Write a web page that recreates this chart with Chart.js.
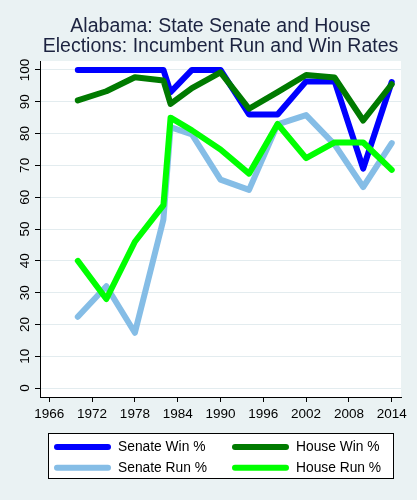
<!DOCTYPE html>
<html>
<head>
<meta charset="utf-8">
<script src="https://cdn.jsdelivr.net/npm/chart.js@4.4.1/dist/chart.umd.min.js"></script>
<style>
  html, body { margin: 0; padding: 0; background: #eaf2f3; }
  #wrap { width: 417px; height: 500px; }
</style>
</head>
<body>
<div id="wrap"><canvas id="c" width="417" height="500"></canvas></div>
<script>
// ---- data ----
const years     = [1970, 1974, 1978, 1982, 1983, 1986, 1990, 1994, 1998, 2002, 2006, 2010, 2014];
const senateWin = [100, 100, 100, 100, 93, 100, 100, 86, 86, 96.4, 96.4, 69, 96.2];
const houseWin  = [90.4, 93.3, 97.7, 96.7, 89.3, 94.3, 99.2, 87.8, 93, 98.4, 97.6, 84.1, 95.5];
const senateRun = [22.4, 32, 17.4, 53, 82, 79.7, 65.5, 62.3, 82.9, 85.8, 76.5, 63.2, 77];
const houseRun  = [40, 28, 46, 57.5, 85, 81, 75, 67.4, 83, 72.3, 77.2, 77.2, 68.6];
const xTicks = [1966, 1972, 1978, 1984, 1990, 1996, 2002, 2008, 2014];
const yTicks = [0, 10, 20, 30, 40, 50, 60, 70, 80, 90, 100];
const seriesNames = ['Senate Win %', 'House Win %', 'Senate Run %', 'House Run %'];
const titleLines = ['Alabama: State Senate and House', 'Elections: Incumbent Run and Win Rates'];

const FONT = '"Liberation Sans", Arial, sans-serif';
const colors = ['#0000ff', '#007a00', '#85bde6', '#00ff00'];
const seriesVals = [senateWin, houseWin, senateRun, houseRun];

const bgPlugin = {
  id: 'bg',
  beforeDraw(chart) {
    const ctx = chart.ctx, ca = chart.chartArea;
    ctx.save();
    ctx.fillStyle = '#eaf2f3';
    ctx.fillRect(0, 0, chart.width, chart.height);
    ctx.fillStyle = '#ffffff';
    ctx.fillRect(ca.left, ca.top, ca.right - ca.left, ca.bottom - ca.top);
    ctx.restore();
  }
};

const legendPlugin = {
  id: 'stataLegend',
  afterDraw(chart) {
    const ctx = chart.ctx, ca = chart.chartArea, xs = chart.scales.x;
    const w = 346, h = 46;
    const left = Math.round((ca.left + ca.right) / 2 - w / 2);
    const top = Math.round(xs.bottom + 7);
    ctx.save();
    ctx.fillStyle = '#ffffff';
    ctx.fillRect(left, top, w, h);
    ctx.strokeStyle = '#000000';
    ctx.lineWidth = 1;
    ctx.strokeRect(left + 0.5, top + 0.5, w - 1, h - 1);
    ctx.font = '13.8px ' + FONT;
    ctx.textBaseline = 'middle';
    ctx.textAlign = 'left';
    chart.data.datasets.forEach((ds, i) => {
      const col = i % 2, row = Math.floor(i / 2);
      const lx = left + 6 + col * 178;
      const ly = top + 14 + row * 20.7;
      ctx.beginPath();
      ctx.lineCap = 'round';
      ctx.lineWidth = 6;
      ctx.strokeStyle = ds.borderColor;
      ctx.moveTo(lx + 3, ly);
      ctx.lineTo(lx + 54, ly);
      ctx.stroke();
      ctx.fillStyle = '#000000';
      ctx.fillText(ds.label, lx + 64, ly);
    });
    ctx.restore();
  }
};

const datasets = seriesNames.map((name, i) => ({
  label: name,
  data: years.map((y, k) => ({ x: y, y: seriesVals[i][k] })),
  borderColor: colors[i],
  backgroundColor: colors[i],
  borderWidth: 6,
  borderCapStyle: 'round',
  borderJoinStyle: 'round',
  pointRadius: 0,
  tension: 0,
  fill: false,
  order: 3 - i
}));

new Chart(document.getElementById('c'), {
  type: 'line',
  data: { datasets },
  plugins: [bgPlugin, legendPlugin],
  options: {
    responsive: false,
    animation: false,
    layout: { padding: { left: 16.4, right: 16, top: 0, bottom: 73.8 } },
    plugins: {
      legend: { display: false },
      tooltip: { enabled: false },
      title: {
        display: true,
        fullSize: false,
        text: titleLines,
        color: '#1c2340',
        font: { family: FONT, size: 19.5, weight: 'normal', lineHeight: 1.026 },
        padding: { top: 16.5, bottom: 4.5 }
      }
    },
    scales: {
      x: {
        type: 'linear',
        min: 1964.7,
        max: 2015.3,
        afterBuildTicks: (s) => { s.ticks = xTicks.map(v => ({ value: v })); },
        ticks: {
          autoSkip: false, maxRotation: 0, minRotation: 0, padding: 4,
          color: '#000000',
          font: { family: FONT, size: 13.5 },
          callback: (v) => String(v)
        },
        grid: { drawOnChartArea: false, drawTicks: true, tickLength: 5, tickColor: '#000000', tickWidth: 1 },
        border: { display: true, color: '#000000', width: 1 }
      },
      y: {
        type: 'linear',
        min: -2.8,
        max: 102.8,
        afterBuildTicks: (s) => { s.ticks = yTicks.map(v => ({ value: v })); },
        ticks: {
          autoSkip: false, minRotation: 90, maxRotation: 90, crossAlign: 'center', padding: -1.5,
          color: '#000000',
          font: { family: FONT, size: 13.5, lineHeight: 1.6 },
          callback: (v) => String(v)
        },
        grid: { color: '#e3ecef', lineWidth: 1, drawTicks: true, tickLength: 5, tickColor: '#000000', tickWidth: 1 },
        border: { display: true, color: '#000000', width: 1 }
      }
    }
  }
});
</script>
</body>
</html>
